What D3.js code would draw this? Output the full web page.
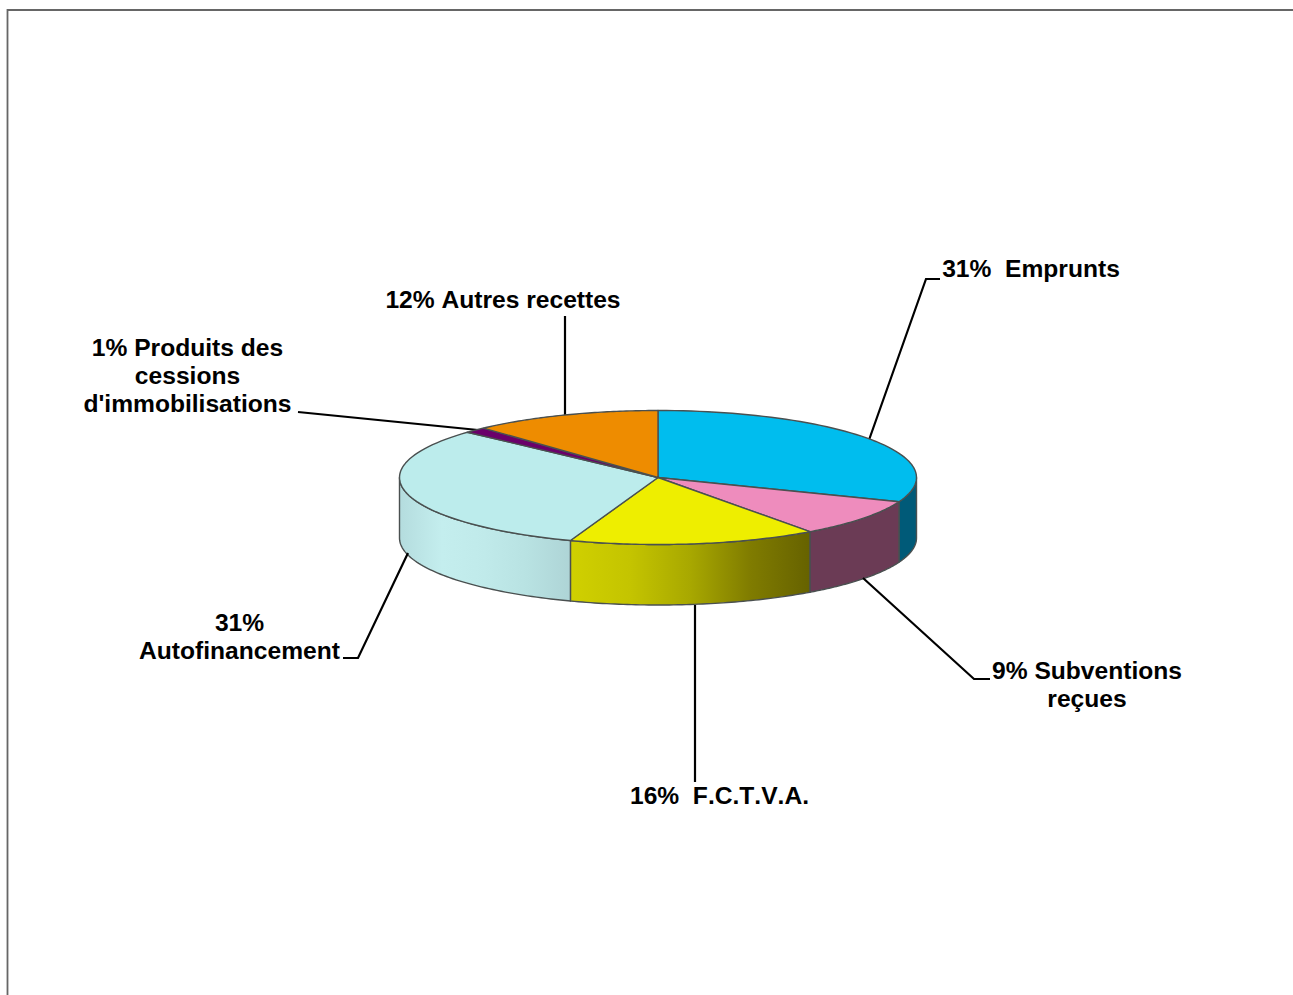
<!DOCTYPE html>
<html><head><meta charset="utf-8">
<style>html,body{margin:0;padding:0;background:#fff}svg{display:block}
text{font-family:"Liberation Sans",Arial,sans-serif;font-weight:700;font-size:24.6px;font-kerning:none;fill:#000;text-anchor:middle}</style>
<script src="https://cdn.jsdelivr.net/npm/d3@7/dist/d3.min.js"></script>
</head><body>
<svg id="c" width="1293" height="995"></svg>
<script>
const categories = ["Emprunts","Subventions reçues","F.C.T.V.A.","Autofinancement","Produits des cessions d'immobilisations","Autres recettes"];
const values = [30.9,9.1,15.5,31.3,1.4,11.8];
const topColors = ["#00bdee","#ee8cbd","#eeee00","#bcecec","#6a006a","#ee8c00"];
const wallStops = [
  ["#005a78","#005a78"],
  ["#6b3b55","#6b3b55"],
  ["#d0d000","#c4c400","#a8a800","#807c00","#666200"],
  ["#b4dcde","#c4eeee","#c0eaea","#b8e2e2","#aed4d6"],
  ["#6a006a","#6a006a"],
  ["#ee8c00","#ee8c00"]
];
const labelLines = [
  ["31%  Emprunts"],
  ["9% Subventions","reçues"],
  ["16%  F.C.T.V.A."],
  ["31%","Autofinancement"],
  ["1% Produits des","cessions","d'immobilisations"],
  ["12% Autres recettes"]
];
const labelPos = [[1031,277],[1087,679],[719.5,804],[239.5,631],[187.5,356],[503,308]];
const leaders = [
  [[869,440],[926,279],[940,279]],
  [[863,578],[974,679],[990,679]],
  [[695,605],[695,782]],
  [[408,553],[358,658],[343,658]],
  [[478,430],[298,412]],
  [[565,415],[565,316]]
];

const svg = d3.select("#c");
const x = d3.scaleLinear().domain([-1,1]).range([399.5,916.5]);
const y = d3.scaleLinear().domain([-1,1]).range([410.5,544.5]);
const depth = 60.5;
const pie = d3.pie().sort(null).value(d=>d);
const arcs = pie(values);
const defs = svg.append("defs");
const pt = (a,dz=0)=>[x(Math.sin(a)), y(-Math.cos(a))+dz];
const samples = (a0,a1,dz=0)=>d3.range(0,61).map(i=>pt(a0+(a1-a0)*i/60,dz));
const line = d3.line();
const EDGE="#4a5050";

// frame
svg.append("path").attr("d",line([[7.5,995],[7.5,10],[1293,10]])).attr("fill","none").attr("stroke","#666").attr("stroke-width",1.8);

// walls (only front half visible)
const lo=Math.PI/2, hi=3*Math.PI/2;
arcs.forEach((d,i)=>{
  const a0=Math.max(d.startAngle,lo), a1=Math.min(d.endAngle,hi);
  if(a1<=a0) return;
  const id="w"+i, stops=wallStops[i];
  const g=defs.append("linearGradient").attr("id",id).attr("gradientUnits","userSpaceOnUse")
    .attr("x1",Math.min(pt(a0)[0],pt(a1)[0])).attr("x2",Math.max(pt(a0)[0],pt(a1)[0])).attr("y1",0).attr("y2",0);
  stops.forEach((c,k)=>g.append("stop").attr("offset",k/(stops.length-1)).attr("stop-color",c));
  const pts=samples(a0,a1).concat(samples(a1,a0,depth));
  svg.append("path").attr("d",line(pts)+"Z").attr("fill",`url(#${id})`).attr("stroke",EDGE).attr("stroke-width",1.4).attr("stroke-linejoin","round");
});

// leaders
svg.append("g").selectAll("path").data(leaders).join("path").attr("d",d=>line(d))
  .attr("fill","none").attr("stroke","#000").attr("stroke-width",2.2);

// top slices
arcs.forEach((d,i)=>{
  const pts=[[x(0),y(0)]].concat(samples(d.startAngle,d.endAngle));
  svg.append("path").attr("d",line(pts)+"Z").attr("fill",topColors[i]).attr("stroke",EDGE).attr("stroke-width",1.4).attr("stroke-linejoin","round");
});

// labels
labelLines.forEach((ls,i)=>{
  const t=svg.append("text").style("white-space","pre");
  ls.forEach((s,k)=>t.append("tspan").attr("x",labelPos[i][0]).attr("y",labelPos[i][1]+k*28).text(s));
});
</script>
</body></html>
